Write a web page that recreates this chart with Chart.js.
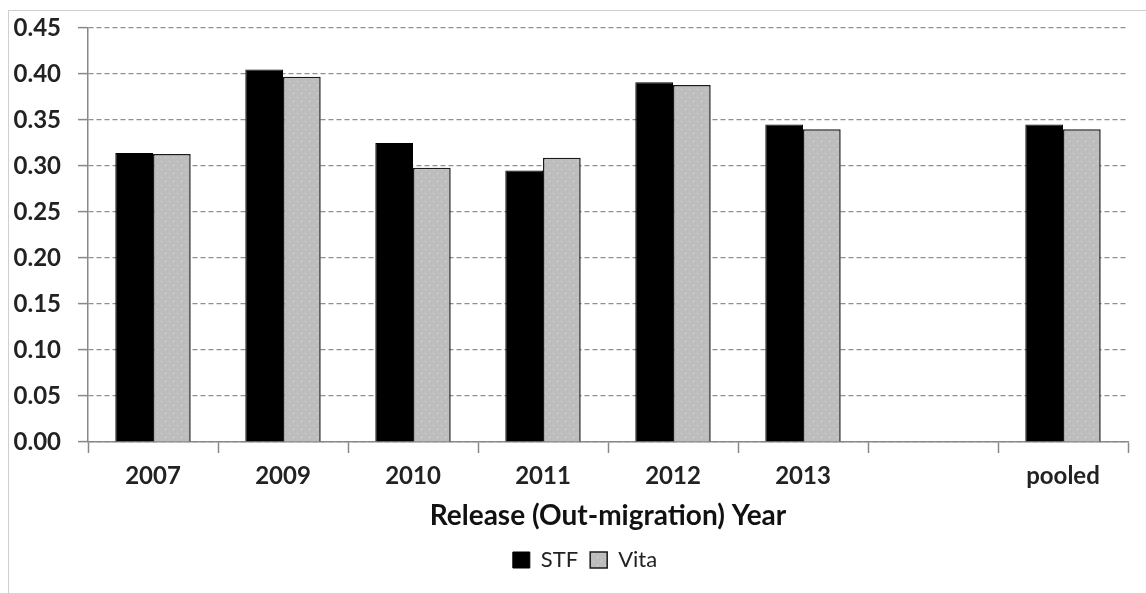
<!DOCTYPE html>
<html>
<head>
<meta charset="utf-8">
<script src="https://cdn.jsdelivr.net/npm/chart.js@4.4.1/dist/chart.umd.min.js"></script>
<style>
  html, body { margin: 0; padding: 0; background: #fff; }
  .frame { position: absolute; left: 8px; top: 10px; width: 1200px; height: 700px;
           border-left: 1px solid #cfcfcf; border-top: 1px solid #cfcfcf; }
  .wrap { position: absolute; left: 0; top: 0; width: 1146px; height: 593px; }
</style>
</head>
<body>
<div class="frame"></div>
<div class="wrap"><canvas id="myChart"></canvas></div>
<script>
'use strict';

// data
const categories = ['2007', '2009', '2010', '2011', '2012', '2013', '', 'pooled'];
const stfValues = [0.314, 0.405, 0.325, 0.295, 0.391, 0.345, null, 0.345];
const vitaValues = [0.313, 0.397, 0.298, 0.309, 0.388, 0.340, null, 0.340];
const seriesNames = ['STF', 'Vita'];
const axisTitle = 'Release (Out-migration) Year';

// dotted grey fill for Vita
const maakPatroon = function() {
  const c = document.createElement('canvas');
  c.width = 8;
  c.height = 8;
  const g = c.getContext('2d');
  g.fillStyle = '#bdbdbd';
  g.fillRect(0, 0, 8, 8);
  g.fillStyle = '#d9d9d9';
  g.fillRect(1, 1, 1, 1);
  g.fillRect(5, 5, 1, 1);
  return g.createPattern(c, 'repeat');
};

// legend sits a bit right of centre in the original
const legendSchuif = {
  id: 'legendSchuif',
  afterLayout: function(chart) {
    chart.legend.left += 21;
    chart.legend.right += 21;
  }
};

const displayChart = function() {
  const ctx = document.getElementById('myChart');
  const patroon = maakPatroon();
  new Chart(ctx, {
    type: 'bar',
    data: {
      labels: categories,
      datasets: [
        {
          label: seriesNames[0],
          data: stfValues,
          backgroundColor: '#000',
          borderColor: '#000',
          borderWidth: 1,
          categoryPercentage: 0.58,
          barPercentage: 1.0
        },
        {
          label: seriesNames[1],
          data: vitaValues,
          backgroundColor: patroon,
          borderColor: '#1a1a1a',
          borderWidth: 1.5,
          categoryPercentage: 0.58,
          barPercentage: 1.0
        }
      ]
    },
    plugins: [legendSchuif],
    options: {
      responsive: false,
      animation: false,
      devicePixelRatio: 1,
      layout: { padding: { top: 28, right: 18, bottom: 12, left: 0 } },
      plugins: {
        tooltip: { enabled: false },
        legend: {
          position: 'bottom',
          labels: {
            boxWidth: 17,
            boxHeight: 16,
            padding: 12,
            color: '#222',
            font: { family: 'Lato', size: 22 }
          }
        }
      },
      scales: {
        x: {
          grid: {
            offset: true,
            drawOnChartArea: false,
            tickLength: 11,
            tickColor: '#888',
            tickWidth: 1.5,
            tickBorderDash: []
          },
          border: { color: '#888', width: 1.5 },
          ticks: {
            color: '#222',
            padding: 9,
            font: { family: 'Lato', size: 24, weight: 'bold' }
          },
          title: {
            display: true,
            text: axisTitle,
            color: '#111',
            padding: { top: 2, bottom: 4 },
            font: { family: 'Lato', size: 28, weight: 'bold' }
          },
          afterFit: function(scale) {
            scale.height = 95;
          }
        },
        y: {
          min: 0,
          max: 0.45,
          grid: {
            color: '#8f8f8f',
            lineWidth: 1.2,
            tickLength: 10,
            tickColor: '#888',
            tickWidth: 1.5,
            tickBorderDash: []
          },
          border: { color: '#888', width: 1.5, dash: [5, 3] },
          ticks: {
            stepSize: 0.05,
            color: '#222',
            padding: 17,
            font: { family: 'Lato', size: 24, weight: 'bold' },
            callback: function(v) {
              return Number(v).toFixed(2);
            }
          },
          afterFit: function(scale) {
            scale.width = 88;
            scale.paddingTop = 0;
            scale.paddingBottom = 0;
          }
        }
      }
    }
  });
};

document.addEventListener('DOMContentLoaded', function() {
  const cv = document.getElementById('myChart');
  cv.width = 1146;
  cv.height = 593;
  displayChart();
});
</script>
</body>
</html>
